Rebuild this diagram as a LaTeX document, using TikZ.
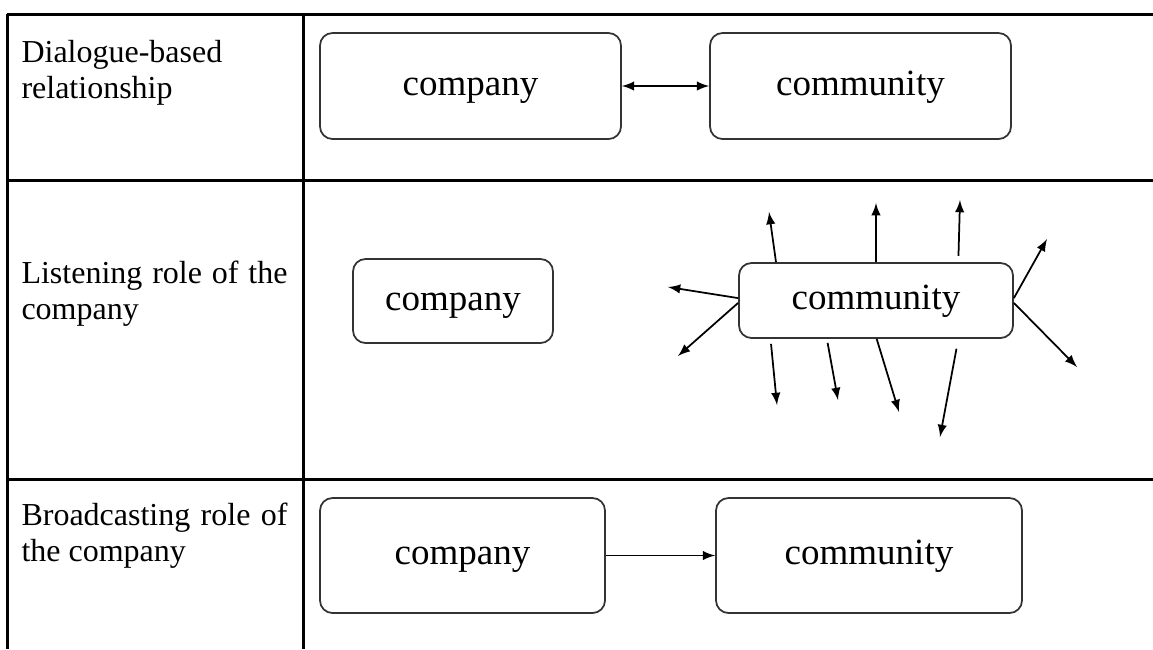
\documentclass[tikz,border=0pt]{standalone}
\usepackage{fontspec}
\setmainfont{Liberation Serif}
\usepackage{tikz}
\usetikzlibrary{positioning}
\hyphenpenalty=10000

\begin{document}
\begin{tikzpicture}[x=0.4pt, y=-0.4pt,
    rule/.style={line width=1.2pt},
    party/.style={draw=black!80, line width=0.7pt, rounded corners=5pt, inner sep=0pt,
        text height=0.9em, text depth=0.15em,
        font=\fontsize{14.8pt}{17pt}\selectfont},
    rowlabel/.style={anchor=base west, inner sep=0pt, text width=106.4pt, align=justify,
        font=\fontsize{12.8pt}{14.4pt}\selectfont},
    link/.style={line width=0.7pt}]
    \useasboundingbox (0,0) rectangle (1153,649);

    % table
    \draw[rule] (7,14) -- (1153,14);
    \draw[rule] (7,180) -- (1153,180);
    \draw[rule] (7,479) -- (1153,479);
    \draw[rule] (7,14) -- (7,649);
    \draw[rule] (303,14) -- (303,649);

    \node[rowlabel] (lab1) at (21,62) {Dialogue-based relationship};
    \node[rowlabel] (lab2) at (21,283) {Listening role of the company};
    \node[rowlabel] (lab3) at (21,525) {Broadcasting role of the company};

    % dialogue
    \node[party, minimum width=120.4pt, minimum height=42.4pt] (comp1) at (470.5,86) {company};
    \node[party, minimum width=120.4pt, minimum height=42.4pt] (comm1) at (860.5,86) {community};
    \draw[link, latex-latex] (comp1) -- (comm1);

    % listening
    \node[party, minimum width=80pt, minimum height=33.6pt] (comp2) at (453,301) {company};
    \node[party, minimum width=109.6pt, minimum height=30pt] (comm2) at (876,300.5) {community};

    \coordinate (e1) at (769,212);
    \coordinate (e2) at (876,203);
    \coordinate (e3) at (960,200);
    \coordinate (e4) at (1047,239);
    \coordinate (e5) at (1077,367);
    \coordinate (e6) at (668,287);
    \coordinate (e7) at (678,356);
    \coordinate (e8) at (777,405);
    \coordinate (e9) at (838,400);
    \coordinate (e10) at (899,412);
    \coordinate (e11) at (940,437);

    \foreach \a/\e/\s in {159/e1/0, 90/e2/0, 25/e3/2.5, 1/e4/0, -1/e5/0, 179/e6/0, 181/e7/0,
                         200/e8/2, 218/e9/1.6, 271.5/e10/0, 335/e11/4}
        \draw[link, -latex, shorten <=\s pt] (comm2.\a) -- (\e);

    % broadcasting
    \node[party, minimum width=114pt, minimum height=46pt] (comp3) at (462.5,555.5) {company};
    \node[party, minimum width=122.4pt, minimum height=46pt] (comm3) at (869,555.5) {community};
    \draw[link, -latex] (comp3) -- (comm3);
\end{tikzpicture}
\end{document}
